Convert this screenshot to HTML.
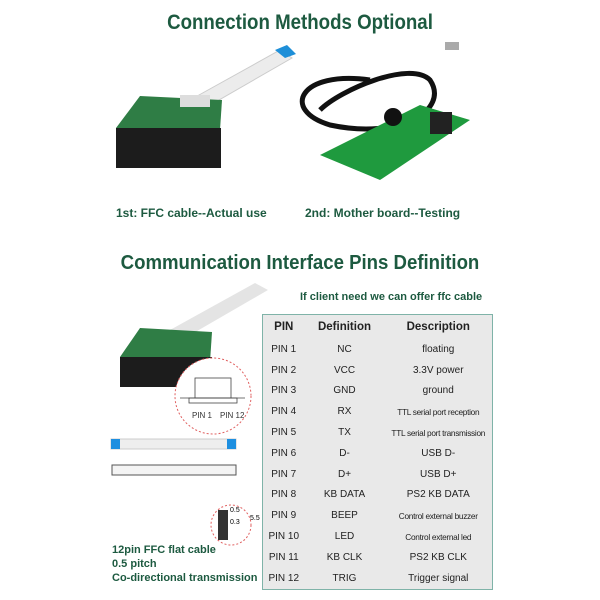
<!DOCTYPE html>
<html><head><meta charset="utf-8"><style>
body{margin:0;width:600px;height:600px;background:#fff;position:relative;overflow:hidden;font-family:"Liberation Sans",sans-serif}
.t{position:absolute;left:0;width:600px;text-align:center;color:#1d5a40;font-weight:bold}
.c{position:absolute;color:#1d5a40;font-size:12px;font-weight:bold}
table{position:absolute;left:262px;top:314px;width:231px;height:274px;background:#e9e9e9;border:1px solid #7fb3a8;border-collapse:collapse;font-size:10px;color:#222;table-layout:fixed}
td{text-align:center;padding:0;height:20.8px;white-space:nowrap;overflow:visible}
th{font-size:11.5px;height:22px}
.s{font-size:8.3px;letter-spacing:-0.3px}
</style></head><body>
<div class="t" style="top:11px;font-size:21px;transform:scaleX(0.89)">Connection Methods Optional</div>
<div class="t" style="top:252px;font-size:20px;transform:scaleX(0.93)">Communication Interface Pins Definition</div>
<div class="c" style="left:116px;top:206px">1st: FFC cable--Actual use</div>
<div class="c" style="left:305px;top:206px">2nd: Mother board--Testing</div>
<div class="c" style="left:300px;top:291px;font-size:11px">If client need we can offer ffc cable</div>
<div class="c" style="left:112px;top:543px;font-size:11px;line-height:14px">12pin FFC flat cable<br>0.5 pitch<br>Co-directional transmission</div>
<svg width="600" height="600" style="position:absolute;left:0;top:0">
<polygon points="190,100 280,50 292,58 205,108" fill="#ececec" stroke="#ccc"/>
<polygon points="275,50 287,45 296,54 285,58" fill="#1e8fd8"/>
<polygon points="116,128 140,96 222,100 220,130 200,145 125,143" fill="#2f7d45"/>
<rect x="116" y="128" width="105" height="40" fill="#1c1c1c"/>
<rect x="180" y="95" width="30" height="12" fill="#ddd"/>
<path d="M370,80 C300,70 280,110 330,125 C400,140 450,110 430,80 C410,60 340,90 320,110" fill="none" stroke="#111" stroke-width="5"/>
<rect x="445" y="42" width="14" height="8" fill="#aaa"/>
<polygon points="320,155 420,105 470,120 380,180" fill="#1f9a3e"/>
<rect x="430" y="112" width="22" height="22" fill="#222"/>
<circle cx="393" cy="117" r="9" fill="#111"/>
<polygon points="170,330 255,283 268,290 185,338" fill="#e4e4e4"/>
<polygon points="120,357 140,328 212,332 210,362 190,370 125,367" fill="#2f7d45"/>
<rect x="120" y="357" width="92" height="30" fill="#1c1c1c"/>
<circle cx="213" cy="396" r="38" fill="#fff" stroke="#e06060" stroke-dasharray="2,2"/>
<rect x="195" y="378" width="36" height="20" fill="none" stroke="#444" stroke-width="0.8"/>
<line x1="180" y1="398" x2="245" y2="398" stroke="#444" stroke-width="0.8"/>
<rect x="189" y="398" width="48" height="5" fill="none" stroke="#444" stroke-width="0.8"/>
<text x="192" y="418" font-size="8" fill="#333">PIN 1</text><text x="220" y="418" font-size="8" fill="#333">PIN 12</text>
<rect x="111" y="439" width="125" height="10" fill="#eee" stroke="#ccc"/>
<rect x="111" y="439" width="9" height="10" fill="#1e8fe0"/><rect x="227" y="439" width="9" height="10" fill="#1e8fe0"/>
<rect x="112" y="465" width="124" height="10" fill="#f4f4f4" stroke="#555"/>
<circle cx="231" cy="525" r="20" fill="#fff" stroke="#e06060" stroke-dasharray="2,2"/>
<rect x="218" y="510" width="10" height="30" fill="#333"/>
<text x="230" y="512" font-size="7">0.5</text><text x="230" y="524" font-size="7">0.3</text><text x="250" y="520" font-size="7">5.5</text>
</svg>
<table>
<colgroup><col style="width:42px"><col style="width:80px"><col></colgroup>
<tr><th>PIN</th><th>Definition</th><th>Description</th></tr>
<tr><td>PIN 1</td><td>NC</td><td>floating</td></tr>
<tr><td>PIN 2</td><td>VCC</td><td>3.3V power</td></tr>
<tr><td>PIN 3</td><td>GND</td><td>ground</td></tr>
<tr><td>PIN 4</td><td>RX</td><td class="s">TTL serial port reception</td></tr>
<tr><td>PIN 5</td><td>TX</td><td class="s">TTL serial port transmission</td></tr>
<tr><td>PIN 6</td><td>D-</td><td>USB D-</td></tr>
<tr><td>PIN 7</td><td>D+</td><td>USB D+</td></tr>
<tr><td>PIN 8</td><td>KB DATA</td><td>PS2 KB DATA</td></tr>
<tr><td>PIN 9</td><td>BEEP</td><td class="s">Control external buzzer</td></tr>
<tr><td>PIN 10</td><td>LED</td><td class="s">Control external led</td></tr>
<tr><td>PIN 11</td><td>KB CLK</td><td>PS2 KB CLK</td></tr>
<tr><td>PIN 12</td><td>TRIG</td><td>Trigger signal</td></tr>
</table>
</body></html>
